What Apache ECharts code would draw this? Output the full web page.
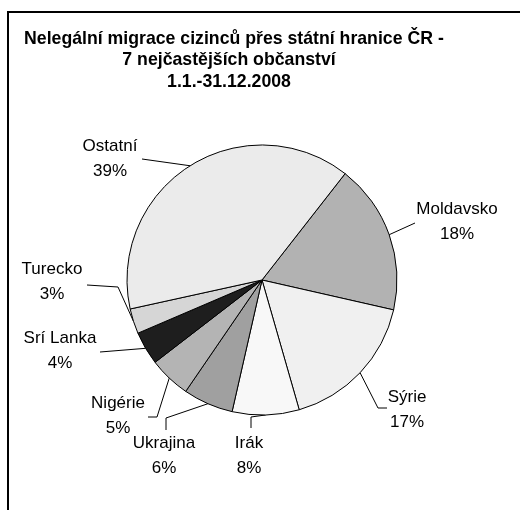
<!DOCTYPE html>
<html>
<head>
<meta charset="utf-8">
<script src="https://cdn.jsdelivr.net/npm/echarts@6/dist/echarts.min.js"></script>
<style>
  html, body { margin: 0; padding: 0; background: #fff; }
  #chart { width: 520px; height: 510px; }
</style>
</head>
<body>
<div id="chart"></div>
<script>
// data
const countries = ['Moldavsko', 'Sýrie', 'Irák', 'Ukrajina', 'Nigérie', 'Srí Lanka', 'Turecko', 'Ostatní']
const shares = [18, 17, 8, 6, 5, 4, 3, 39]

const titleText = '\u00a0\u00a0Nelegální migrace cizinců přes státní hranice ČR -\n7 nejčastějších občanství\n1.1.-31.12.2008'

// label placement as in the original (centre of label text, then leader elbow and end)
const labelCenters = [[457, 222], [407, 410], [249, 456], [164, 456], [118, 416], [60, 351], [52, 282], [110, 159]]
const leaderTail = [
  [[415, 223], [415, 223]],
  [[378, 408], [387, 408]],
  [[251, 417], [251, 428]],
  [[166, 418], [166, 430]],
  [[157, 417], [148, 417]],
  [[100, 352], [100, 352]],
  [[118, 287], [87, 285]],
  [[142, 159], [142, 159]],
]

const sliceColors = ['#b2b2b2', '#f0f0f0', '#f8f8f8', '#a0a0a0', '#b4b4b4', '#1e1e1e', '#d6d6d6', '#ebebeb']
const font = '"Liberation Sans", Arial, sans-serif'

const chart = echarts.init(document.getElementById('chart'), null, { renderer: 'canvas' })

chart.setOption({
  animation: false,
  backgroundColor: '#ffffff',
  title: {
    text: titleText,
    left: 224,
    top: 23,
    textAlign: 'center',
    textStyle: { fontFamily: font, fontSize: 17.7, fontWeight: 'bold', color: '#000', lineHeight: 21.5 },
  },
  graphic: [
    {
      type: 'polyline',
      shape: { points: [[8, 510], [8, 12], [520, 12]] },
      style: { stroke: '#000', lineWidth: 2, fill: null },
    },
  ],
  series: [
    {
      type: 'pie',
      center: [262, 280],
      radius: 135,
      startAngle: 52,
      clockwise: true,
      avoidLabelOverlap: false,
      data: countries.map((name, i) => ({
        name,
        value: shares[i],
        itemStyle: { color: sliceColors[i] },
      })),
      itemStyle: { borderColor: '#000', borderWidth: 1 },
      label: {
        show: true,
        position: 'outside',
        formatter: (p) => `${p.name}\n${p.value}%`,
        align: 'center',
        fontFamily: font,
        fontSize: 17,
        lineHeight: 25,
        color: '#000',
      },
      labelLine: {
        show: true,
        length: 14,
        length2: 12,
        lineStyle: { color: '#000', width: 1 },
      },
      labelLayout: (params) => {
        const i = params.dataIndex
        const start = params.labelLinePoints[0]
        return {
          x: labelCenters[i][0],
          y: labelCenters[i][1],
          align: 'center',
          verticalAlign: 'middle',
          hideOverlap: false,
          labelLinePoints: [start, leaderTail[i][0], leaderTail[i][1]],
        }
      },
      emphasis: { disabled: true },
    },
  ],
})
</script>
</body>
</html>
